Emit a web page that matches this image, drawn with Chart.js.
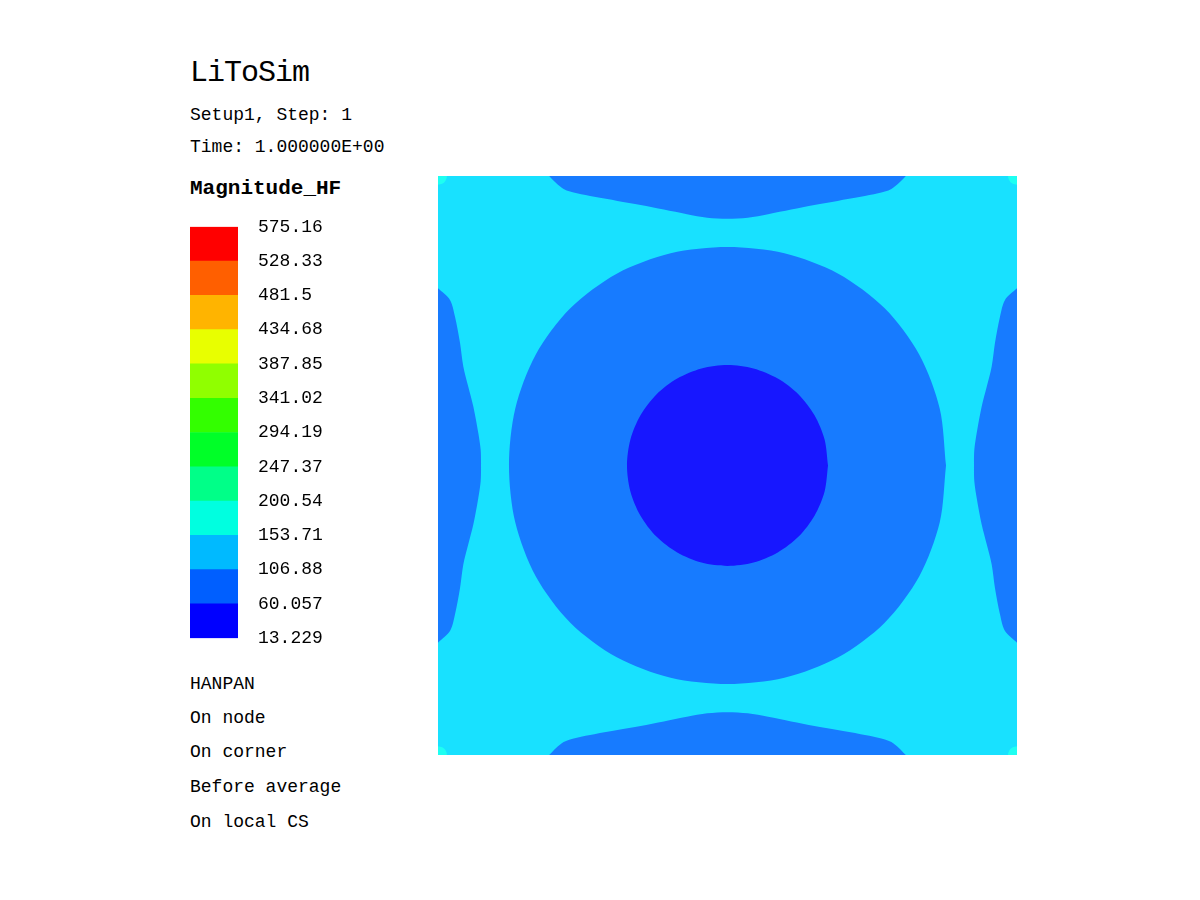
<!DOCTYPE html>
<html>
<head>
<meta charset="utf-8">
<title>LiToSim - Magnitude_HF</title>
<script src="https://cdn.jsdelivr.net/npm/chart.js@4.4.1/dist/chart.umd.min.js"></script>
<style>
  html, body { margin: 0; padding: 0; background: #fff; }
  body { width: 1200px; height: 900px; position: relative; overflow: hidden;
         font-family: 'Liberation Mono', 'DejaVu Sans Mono', monospace; color: #000; }
  .txt { position: absolute; left: 190px; white-space: pre; line-height: 1; font-size: 18px; }
  #title { font-size: 30px; letter-spacing: -1px; top: 58px; }
  #varName { font-size: 21px; font-weight: bold; top: 178px; }
  #plotCanvas { position: absolute; left: 438px; top: 176px; }
  #barCanvas { position: absolute; left: 190px; top: 196px; }
</style>
</head>
<body>
<div class="txt" id="title">LiToSim</div>
<div class="txt" style="top:106px">Setup1, Step: 1</div>
<div class="txt" style="top:138px">Time: 1.000000E+00</div>
<div class="txt" id="varName">Magnitude_HF</div>

<canvas id="barCanvas" width="150" height="473"></canvas>
<canvas id="plotCanvas" width="579" height="579"></canvas>

<div class="txt" style="top:675px">HANPAN</div>
<div class="txt" style="top:709px">On node</div>
<div class="txt" style="top:743px">On corner</div>
<div class="txt" style="top:778px">Before average</div>
<div class="txt" style="top:813px">On local CS</div>

<script>
// Niveaux de l'échelle de couleurs (du bas vers le haut)
const levelLabels = ['13.229', '60.057', '106.88', '153.71', '200.54', '247.37', '294.19',
                     '341.02', '387.85', '434.68', '481.5', '528.33', '575.16'];
const levels = levelLabels.map(Number);
const bandColors = ['#0000FF', '#005FFF', '#00BAFF', '#00FFE0', '#00FF88', '#00FF28',
                    '#33FF00', '#90FF00', '#E8FF00', '#FFB400', '#FF5F00', '#FF0000'];

// Couleurs des zones du tracé
const colCyan = '#18E1FF';
const colMid = '#177BFF';
const colDark = '#1717FF';
const colCorner = '#1EFFF2';

// Contours (domaine 0..100 x 0..100)
const fieldArea = [[-1, -1], [101, -1], [101, 101], [-1, 101]];

const cornerTL = [[0, 100], [1.5, 100], [1.3, 99.2], [0.8, 98.7], [0, 98.5]];
const cornerTR = [[100, 100], [98.5, 100], [98.7, 99.2], [99.2, 98.7], [100, 98.5]];
const cornerBL = [[0, 0], [1.5, 0], [1.3, 0.8], [0.8, 1.3], [0, 1.5]];
const cornerBR = [[100, 0], [98.5, 0], [98.7, 0.8], [99.2, 1.3], [100, 1.5]];

const lobeLeft = [[-10, 90], [0, 80.6], [2.07, 78.6], [2.94, 75.7], [3.8, 71.2], [4.37, 67.1],
  [5.23, 63.6], [6.1, 60.2], [6.96, 55.6], [7.37, 52.7], [7.43, 50], [7.37, 47.3], [6.96, 44.4],
  [6.1, 39.8], [5.23, 36.4], [4.37, 32.9], [3.8, 28.8], [2.94, 24.3], [2.07, 21.4], [0, 19.4], [-10, 10]];

const lobeRight = [[110, 90], [100, 80.6], [97.93, 78.6], [97.06, 75.7], [96.2, 71.2], [95.63, 67.1],
  [94.77, 63.6], [93.9, 60.2], [93.04, 55.6], [92.63, 52.7], [92.57, 50], [92.63, 47.3], [93.04, 44.4],
  [93.9, 39.8], [94.77, 36.4], [95.63, 32.9], [96.2, 28.8], [97.06, 24.3], [97.93, 21.4], [100, 19.4], [110, 10]];

const lobeTop = [[10, 110], [19.2, 100], [21.7, 97.75], [24, 97], [27, 96.4], [31, 95.7], [35, 95],
  [39, 94.2], [43, 93.4], [46.5, 92.8], [50, 92.6], [53.5, 92.8], [57, 93.4], [61, 94.2], [65, 95],
  [69, 95.7], [73, 96.4], [76, 97], [78.3, 97.75], [80.8, 100], [90, 110]];

const lobeBottom = [[10, -10], [19.2, 0], [21.7, 2.25], [24, 3], [27, 3.6], [31, 4.3], [35, 5],
  [39, 5.8], [43, 6.6], [46.5, 7.2], [50, 7.4], [53.5, 7.2], [57, 6.6], [61, 5.8], [65, 5],
  [69, 4.3], [73, 3.6], [76, 3], [78.3, 2.25], [80.8, 0], [90, -10]];

const ringOuter = [[87.74, 50], [86.66, 59.82], [83.13, 69.13], [77.15, 77.15], [69.13, 83.13],
  [59.82, 86.66], [50, 87.74], [40.18, 86.66], [30.87, 83.13], [22.85, 77.15], [16.87, 69.13],
  [13.34, 59.82], [12.26, 50], [13.34, 40.18], [16.87, 30.87], [22.85, 22.85], [30.87, 16.87],
  [40.18, 13.34], [50, 12.26], [59.82, 13.34], [69.13, 16.87], [77.15, 22.85], [83.13, 30.87],
  [86.66, 40.18], [87.74, 50]];

const darkCore = [[67.36, 50], [66.77, 54.49], [65.03, 58.68], [62.28, 62.28], [58.68, 65.03],
  [54.49, 66.77], [50, 67.36], [45.51, 66.77], [41.32, 65.03], [37.72, 62.28], [34.97, 58.68],
  [33.23, 54.49], [32.64, 50], [33.23, 45.51], [34.97, 41.32], [37.72, 37.72], [41.32, 34.97],
  [45.51, 33.23], [50, 32.64], [54.49, 33.23], [58.68, 34.97], [62.28, 37.72], [65.03, 41.32],
  [66.77, 45.51], [67.36, 50]];

document.addEventListener('DOMContentLoaded', function() {
    createColorBar();
    createContourPlot();
});

function toPoints(arr) {
    return arr.map(p => ({ x: p[0], y: p[1] }));
}

// Barre de couleurs avec les niveaux
function createColorBar() {
    const ctx = document.getElementById('barCanvas').getContext('2d');

    const datasets = bandColors.map((c, i) => ({
        data: [[levels[i], levels[i + 1]]],
        backgroundColor: c,
        borderWidth: 0,
        grouped: false,
        barPercentage: 1,
        categoryPercentage: 1
    }));

    new Chart(ctx, {
        type: 'bar',
        data: { labels: [''], datasets: datasets },
        options: {
            responsive: false,
            animation: false,
            layout: { padding: 0 },
            plugins: { legend: { display: false }, tooltip: { enabled: false } },
            scales: {
                x: { display: false },
                y: {
                    position: 'right',
                    min: levels[0],
                    max: levels[levels.length - 1],
                    grid: { display: false, drawTicks: false },
                    border: { display: false },
                    afterBuildTicks: axis => { axis.ticks = levels.map(v => ({ value: v })); },
                    afterFit: axis => { axis.width = 102; },
                    ticks: {
                        padding: 20,
                        color: '#000',
                        font: { family: 'Liberation Mono', size: 18 },
                        callback: (v, i) => levelLabels[i]
                    }
                }
            }
        }
    });
}

// Tracé des zones iso-valeurs
function createContourPlot() {
    const ctx = document.getElementById('plotCanvas').getContext('2d');

    const regions = [
        { pts: fieldArea, color: colCyan, order: 5 },
        { pts: cornerTL, color: colCorner, order: 4 },
        { pts: cornerTR, color: colCorner, order: 4 },
        { pts: cornerBL, color: colCorner, order: 4 },
        { pts: cornerBR, color: colCorner, order: 4 },
        { pts: lobeLeft, color: colMid, order: 3 },
        { pts: lobeRight, color: colMid, order: 3 },
        { pts: lobeTop, color: colMid, order: 3 },
        { pts: lobeBottom, color: colMid, order: 3 },
        { pts: ringOuter, color: colMid, order: 2 },
        { pts: darkCore, color: colDark, order: 1 }
    ];

    new Chart(ctx, {
        type: 'line',
        data: {
            datasets: regions.map(r => ({
                data: toPoints(r.pts),
                fill: 'shape',
                backgroundColor: r.color,
                borderColor: r.color,
                borderWidth: 0,
                pointRadius: 0,
                tension: 0.3,
                order: r.order
            }))
        },
        options: {
            responsive: false,
            animation: false,
            layout: { padding: 0 },
            plugins: { legend: { display: false }, tooltip: { enabled: false } },
            scales: {
                x: { type: 'linear', min: 0, max: 100, display: false },
                y: { type: 'linear', min: 0, max: 100, display: false }
            }
        }
    });
}
</script>
</body>
</html>
